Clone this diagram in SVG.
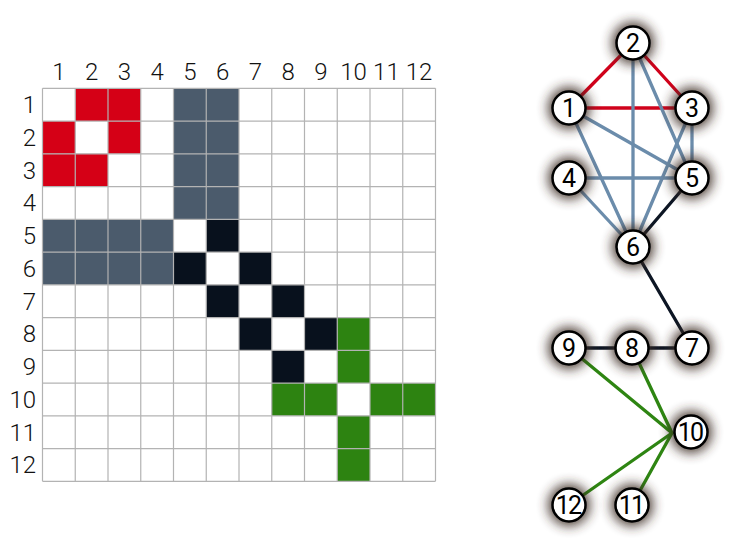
<svg xmlns="http://www.w3.org/2000/svg" width="738" height="549" viewBox="0 0 738 549">
<defs>
<style>
.lbl{font-family:Roboto,"Liberation Sans",sans-serif;font-weight:300;font-size:24px;fill:#111}
.col{text-anchor:middle}
.row{text-anchor:end}
.r{fill:#d50016}.s{fill:#4b5b6c}.k{fill:#08111d}.g{fill:#2d8311}
.grid line{stroke:#b3b3b3;stroke-width:1.2}
.e{stroke-width:3.3;stroke-linecap:round;fill:none}
.er{stroke:#d0021b}.es{stroke:#6b8cab}.ek{stroke:#0d1624}.eg{stroke:#2e8512}
.halo{fill:#3b2a22;opacity:0.9;filter:url(#blur)}
.nc{fill:#fff;stroke:#000;stroke-width:2.5}
.nt{font-family:Roboto,"Liberation Sans",sans-serif;font-size:25px;fill:#000;text-anchor:middle}
.nt2{letter-spacing:-1.8px}
</style>
<filter id="blur" x="-1" y="-1" width="3" height="3"><feGaussianBlur stdDeviation="6"/></filter>
</defs>
<rect width="738" height="549" fill="#fff"/>
<g id="matrix">
<g transform="translate(42.5,88.3)">
<rect class="r" x="32.75" y="0" width="65.5" height="32.75"/>
<rect class="r" x="0" y="32.75" width="32.75" height="32.75"/>
<rect class="r" x="65.5" y="32.75" width="32.75" height="32.75"/>
<rect class="r" x="0" y="65.5" width="65.5" height="32.75"/>
<rect class="s" x="131" y="0" width="65.5" height="131"/>
<rect class="s" x="0" y="131" width="131" height="65.5"/>
<rect class="k" x="163.75" y="131" width="32.75" height="32.75"/>
<rect class="k" x="131" y="163.75" width="32.75" height="32.75"/>
<rect class="k" x="196.5" y="163.75" width="32.75" height="32.75"/>
<rect class="k" x="163.75" y="196.5" width="32.75" height="32.75"/>
<rect class="k" x="229.25" y="196.5" width="32.75" height="32.75"/>
<rect class="k" x="196.5" y="229.25" width="32.75" height="32.75"/>
<rect class="k" x="262" y="229.25" width="32.75" height="32.75"/>
<rect class="k" x="229.25" y="262" width="32.75" height="32.75"/>
<rect class="g" x="294.75" y="229.25" width="32.75" height="65.5"/>
<rect class="g" x="229.25" y="294.75" width="65.5" height="32.75"/>
<rect class="g" x="327.5" y="294.75" width="65.5" height="32.75"/>
<rect class="g" x="294.75" y="327.5" width="32.75" height="65.5"/>
<g class="grid">
<line x1="0" y1="0" x2="393" y2="0"/><line x1="0" y1="32.75" x2="393" y2="32.75"/><line x1="0" y1="65.5" x2="393" y2="65.5"/><line x1="0" y1="98.25" x2="393" y2="98.25"/><line x1="0" y1="131" x2="393" y2="131"/><line x1="0" y1="163.75" x2="393" y2="163.75"/><line x1="0" y1="196.5" x2="393" y2="196.5"/><line x1="0" y1="229.25" x2="393" y2="229.25"/><line x1="0" y1="262" x2="393" y2="262"/><line x1="0" y1="294.75" x2="393" y2="294.75"/><line x1="0" y1="327.5" x2="393" y2="327.5"/><line x1="0" y1="360.25" x2="393" y2="360.25"/><line x1="0" y1="393" x2="393" y2="393"/>
<line y1="0" x1="0" y2="393" x2="0"/><line y1="0" x1="32.75" y2="393" x2="32.75"/><line y1="0" x1="65.5" y2="393" x2="65.5"/><line y1="0" x1="98.25" y2="393" x2="98.25"/><line y1="0" x1="131" y2="393" x2="131"/><line y1="0" x1="163.75" y2="393" x2="163.75"/><line y1="0" x1="196.5" y2="393" x2="196.5"/><line y1="0" x1="229.25" y2="393" x2="229.25"/><line y1="0" x1="262" y2="393" x2="262"/><line y1="0" x1="294.75" y2="393" x2="294.75"/><line y1="0" x1="327.5" y2="393" x2="327.5"/><line y1="0" x1="360.25" y2="393" x2="360.25"/><line y1="0" x1="393" y2="393" x2="393"/>
</g>
</g>
<g class="lbl col">
<text x="58.9" y="80">1</text><text x="91.6" y="80">2</text><text x="124.4" y="80">3</text><text x="157.1" y="80">4</text><text x="189.9" y="80">5</text><text x="222.6" y="80">6</text><text x="255.4" y="80">7</text><text x="288.1" y="80">8</text><text x="320.9" y="80">9</text><text x="353.6" y="80">10</text><text x="386.4" y="80">11</text><text x="419.1" y="80">12</text>
</g>
<g class="lbl row">
<text x="36" y="113.2">1</text><text x="36" y="145.9">2</text><text x="36" y="178.7">3</text><text x="36" y="211.4">4</text><text x="36" y="244.2">5</text><text x="36" y="276.9">6</text><text x="36" y="309.7">7</text><text x="36" y="342.4">8</text><text x="36" y="375.2">9</text><text x="36" y="407.9">10</text><text x="36" y="440.7">11</text><text x="36" y="473.4">12</text>
</g>
</g>
<g id="connectors">
<line class="e er" x1="569" y1="108" x2="633" y2="43"/>
<line class="e er" x1="633" y1="43" x2="692" y2="108"/>
<line class="e er" x1="569" y1="108" x2="692" y2="108"/>
<line class="e es" x1="569" y1="108" x2="692" y2="178"/>
<line class="e es" x1="569" y1="108" x2="633" y2="247"/>
<line class="e es" x1="633" y1="43" x2="692" y2="178"/>
<line class="e es" x1="633" y1="43" x2="633" y2="247"/>
<line class="e es" x1="692" y1="108" x2="692" y2="178"/>
<line class="e es" x1="692" y1="108" x2="633" y2="247"/>
<line class="e es" x1="569" y1="178" x2="692" y2="178"/>
<line class="e es" x1="569" y1="178" x2="633" y2="247"/>
<line class="e ek" x1="692" y1="178" x2="633" y2="247"/>
<line class="e ek" x1="633" y1="247" x2="686" y2="338"/>
<line class="e ek" x1="692" y1="348" x2="632" y2="348"/>
<line class="e ek" x1="632" y1="348" x2="569" y2="348"/>
<line class="e eg" x1="569" y1="348" x2="672" y2="433"/>
<line class="e eg" x1="632" y1="348" x2="672" y2="433"/>
<line class="e eg" x1="569" y1="505" x2="672" y2="433"/>
<line class="e eg" x1="632" y1="505" x2="672" y2="433"/>
</g>
<g id="node1"><circle class="halo" cx="569" cy="108" r="21"/><circle class="nc" cx="569" cy="108" r="16.5"/><text class="nt" x="569" y="117">1</text></g>
<g id="node2"><circle class="halo" cx="633" cy="43" r="21"/><circle class="nc" cx="633" cy="43" r="16.5"/><text class="nt" x="633" y="52">2</text></g>
<g id="node3"><circle class="halo" cx="692" cy="108" r="21"/><circle class="nc" cx="692" cy="108" r="16.5"/><text class="nt" x="692" y="117">3</text></g>
<g id="node4"><circle class="halo" cx="569" cy="178" r="21"/><circle class="nc" cx="569" cy="178" r="16.5"/><text class="nt" x="569" y="187">4</text></g>
<g id="node5"><circle class="halo" cx="692" cy="178" r="21"/><circle class="nc" cx="692" cy="178" r="16.5"/><text class="nt" x="692" y="187">5</text></g>
<g id="node6"><circle class="halo" cx="633" cy="247" r="21"/><circle class="nc" cx="633" cy="247" r="16.5"/><text class="nt" x="633" y="256">6</text></g>
<g id="node7"><circle class="halo" cx="692" cy="348" r="21"/><circle class="nc" cx="692" cy="348" r="16.5"/><text class="nt" x="692" y="357">7</text></g>
<g id="node8"><circle class="halo" cx="632" cy="348" r="21"/><circle class="nc" cx="632" cy="348" r="16.5"/><text class="nt" x="632" y="357">8</text></g>
<g id="node9"><circle class="halo" cx="569" cy="348" r="21"/><circle class="nc" cx="569" cy="348" r="16.5"/><text class="nt" x="569" y="357">9</text></g>
<g id="node10"><circle class="halo" cx="691" cy="432" r="21"/><circle class="nc" cx="691" cy="432" r="16.5"/><text class="nt nt2" x="690" y="441">10</text></g>
<g id="node11"><circle class="halo" cx="632" cy="505" r="21"/><circle class="nc" cx="632" cy="505" r="16.5"/><text class="nt nt2" x="631" y="514">11</text></g>
<g id="node12"><circle class="halo" cx="569" cy="505" r="21"/><circle class="nc" cx="569" cy="505" r="16.5"/><text class="nt nt2" x="568" y="514">12</text></g>
</svg>
